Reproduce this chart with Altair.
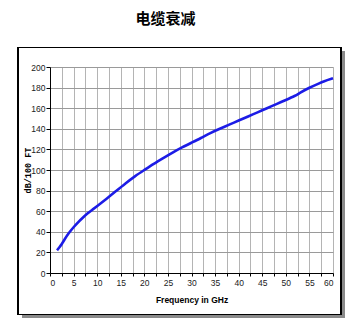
import altair as alt
import pandas as pd

freq = [1.5, 2, 2.5, 3, 4, 5, 6, 7, 8, 9, 10, 12, 14, 16, 18, 20, 22, 24, 26, 28,
        30, 32, 34, 36, 38, 40, 42, 44, 46, 48, 50, 52, 53, 55, 57, 58, 60]
atten = [22, 25, 28, 32, 39, 44.5, 49.5, 54, 58, 61.5, 65, 72, 79.5, 87, 94, 100, 106, 111.5, 117, 122,
         126.5, 131, 136, 140, 144, 148, 152, 156, 160, 164, 168, 172, 175, 180, 184, 186, 189]

x_ticks = [i * 2.5 for i in range(25)]
y_ticks = list(range(0, 201, 20))

df = pd.DataFrame({"freq": freq, "atten": atten})

W, H = 283, 206

frame = alt.Chart(df).mark_rect(fill=None, stroke="#000", strokeWidth=1).encode(
    x=alt.value(-32), x2=alt.value(291), y=alt.value(-19.5), y2=alt.value(247.5)
)
shadow_r = alt.Chart(df).mark_rect(fill="#8a8a8a").encode(
    x=alt.value(291.5), x2=alt.value(295), y=alt.value(-16), y2=alt.value(251)
)
shadow_b = alt.Chart(df).mark_rect(fill="#8a8a8a").encode(
    x=alt.value(-28), x2=alt.value(295), y=alt.value(248), y2=alt.value(251)
)

line = alt.Chart(df).mark_line(color="#1c1ce6", strokeWidth=2.6, interpolate="basis").encode(
    x=alt.X("freq:Q", scale=alt.Scale(domain=[0, 60], nice=False),
            axis=alt.Axis(values=x_ticks, labelExpr="datum.value % 5 == 0 ? datum.label : ''",
                          title="Frequency in GHz", titleFont="Liberation Sans",
                          titleFontSize=8.5, titleFontWeight="bold", titleColor="#000",
                          titleX=W / 2, titleY=22, titleAlign="center",
                          labelFont="Liberation Sans", labelFontSize=8.5, labelColor="#222",
                          labelPadding=2, tickSize=3, tickColor="#000", domainColor="#000",
                          gridColor="#b4b4b4", gridWidth=1, format="d")),
    y=alt.Y("atten:Q", scale=alt.Scale(domain=[0, 200], nice=False),
            axis=alt.Axis(values=y_ticks, title="dB/100 FT", titleFont="Liberation Mono",
                          titleFontSize=8.5, titleFontWeight="bold", titleColor="#000",
                          titleX=-18, titleY=H / 2, titleAngle=-90, titleAlign="center",
                          labelFont="Liberation Sans", labelFontSize=8.5, labelColor="#222",
                          labelPadding=1, tickSize=4, tickColor="#000", domainColor="#000",
                          gridColor="#9a9a9a", gridWidth=1)),
)

chart = alt.layer(shadow_r, shadow_b, frame, line).properties(
    width=W, height=H,
    title=alt.TitleParams("电缆衰减", font="Noto Sans CJK SC", fontSize=15, fontWeight="bold",
                          color="#000", anchor="middle", frame="group", dx=-26, offset=20),
    autosize=alt.AutoSizeParams(type="none"),
    padding={"left": 50, "top": 67, "right": 22, "bottom": 51},
).configure_view(stroke="#000", strokeWidth=1).configure(background="#ffffff")

chart.save("out.html", embed_options={"renderer": "svg", "actions": False})
